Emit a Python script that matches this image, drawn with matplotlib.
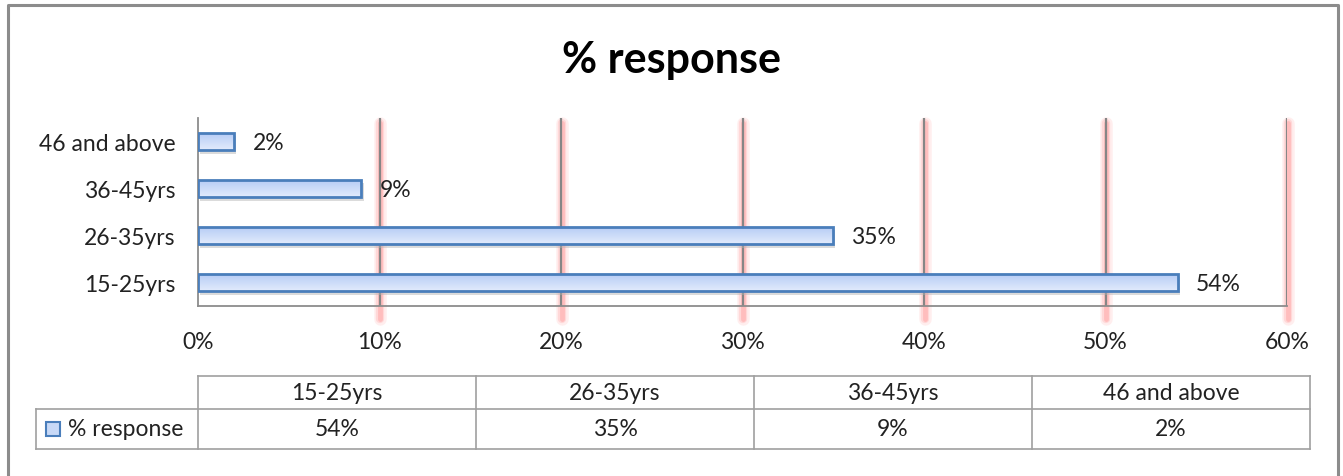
import numpy as np
import matplotlib.pyplot as plt
from matplotlib.patches import Rectangle

plt.rcParams['font.family'] = ['Lato', 'DejaVu Sans']

# datos de la encuesta
grupos = ['15-25yrs', '26-35yrs', '36-45yrs', '46 and above']
respuesta = [54, 35, 9, 2]
ticks_x = [0, 10, 20, 30, 40, 50, 60]
serie = '% response'

W, H = 1343, 477
fs = 16.5
fig = plt.figure(figsize=(W / 100, H / 100), dpi=100)

# capa de fondo en pixeles para marco y tabla
bg = fig.add_axes([0, 0, 1, 1])
bg.set_xlim(0, W)
bg.set_ylim(H, 0)
bg.axis('off')
bg.plot([8, 8, 1338, 1338], [H + 5, 6, 6, H + 5], color='#8c8c8c', lw=2.2)

# area del grafico: x 198-1287, y 119-307
x0, x1, y0, y1 = 198, 1287, 119, 307
ax = fig.add_axes([x0 / W, 1 - y1 / H, (x1 - x0) / W, (y1 - y0) / H])
ax.set_xlim(0, 60)
ax.set_ylim(-0.5, 3.5)
for s in ['top', 'right']:
    ax.spines[s].set_visible(False)
for s in ['left', 'bottom']:
    ax.spines[s].set_color('#8c8c8c')
    ax.spines[s].set_linewidth(1.3)

# lineas de division con sombra rojiza
for t in ticks_x[1:]:
    for w, a in [(9, 0.10), (6, 0.15), (3.5, 0.22)]:
        ax.plot([t + 0.05, t + 0.05], [-0.78, 3.4], color='#ff6060', lw=w,
                alpha=a, solid_capstyle='round', clip_on=False, zorder=1)
    ax.plot([t, t], [-0.5, 3.5], color='#868686', lw=1.6, zorder=2)

# barras con degradado y sombra
y = np.arange(len(grupos))
alto = 0.38
grad = np.linspace(0, 1, 50).reshape(-1, 1)
cmap = plt.matplotlib.colors.LinearSegmentedColormap.from_list(
    'azul', ['#e2ebfc', '#b4cbf5'])
for yi, v in zip(y, respuesta):
    sombra = Rectangle((0.12, yi - alto / 2 - 0.07), v, alto,
                       facecolor='#b0b0b0', alpha=0.45, edgecolor='none', zorder=3)
    ax.add_patch(sombra)
    barra = ax.barh(yi, v, height=alto, color='#c8d9f7', edgecolor='#4a7ebb',
                    linewidth=2, zorder=5)[0]
    im = ax.imshow(grad, cmap=cmap, aspect='auto', zorder=4, origin='lower',
                   extent=[0, v, yi - alto / 2, yi + alto / 2])
    im.set_clip_path(barra)
    barra.set_facecolor('none')
    ax.text(v + 1.0, yi - 0.02, f'{v}%', va='center', ha='left',
            fontsize=fs, color='#222222', zorder=6)
ax.set_ylim(-0.5, 3.5)

ax.set_yticks(y)
ax.set_yticklabels(grupos, fontsize=fs, color='#222222')
ax.set_xticks(ticks_x)
ax.set_xticklabels([f'{t}%' for t in ticks_x], fontsize=fs, color='#222222')
ax.tick_params(length=0, pad=16, axis='y')
ax.tick_params(length=0, pad=18, axis='x')

fig.text(672 / W, 1 - 60 / H, '% response', ha='center', va='center',
         fontsize=31, fontweight='bold', color='black')

# tabla de datos bajo el eje
cols = [198, 476, 754, 1032, 1310]
r0, r1, r2 = 377, 410, 450
lc = '#a0a0a0'
bg.plot([cols[0], cols[-1]], [r0, r0], color=lc, lw=1.2)
bg.plot([36, cols[-1]], [r1, r1], color=lc, lw=1.2)
bg.plot([36, cols[-1]], [r2, r2], color=lc, lw=1.2)
bg.plot([36, 36], [r1, r2], color=lc, lw=1.2)
for c in cols:
    bg.plot([c, c], [r0, r2], color=lc, lw=1.2)
for i, (g, v) in enumerate(zip(grupos, respuesta)):
    cx = (cols[i] + cols[i + 1]) / 2
    bg.text(cx, (r0 + r1) / 2, g, ha='center', va='center', fontsize=fs, color='#222222')
    bg.text(cx, (r1 + r2) / 2, f'{v}%', ha='center', va='center', fontsize=fs, color='#222222')
bg.add_patch(Rectangle((46, 423), 14, 14, facecolor='#c8d9f7', edgecolor='#4a7ebb', lw=1.5))
bg.text(68, (r1 + r2) / 2, serie, ha='left', va='center', fontsize=fs, color='#222222')

fig.savefig('out.png', dpi=100)
